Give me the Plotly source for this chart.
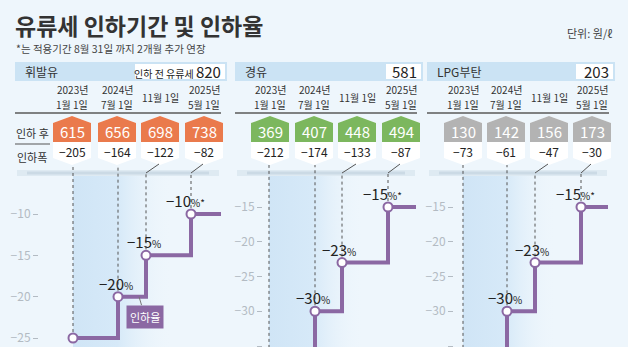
import plotly.graph_objects as go

W, H = 628, 347
FONT = "Noto Sans CJK KR"

# ---------------- data ----------------
fuels = ["휘발유", "경유", "LPG부탄"]
tax_before = [820, 581, 203]
date_years = ["2023년", "2024년", "", "2025년"]
date_days = ["1월 1일", "7월 1일", "11월 1일", "5월 1일"]
extended = ["", "", "", "*"]

gasoline_after = [615, 656, 698, 738]
diesel_after = [369, 407, 448, 494]
lpg_after = [130, 142, 156, 173]

gasoline_cut = [-205, -164, -122, -82]
diesel_cut = [-212, -174, -133, -87]
lpg_cut = [-73, -61, -47, -30]

gasoline_rate = [-25, -20, -15, -10]
diesel_rate = [-37, -30, -23, -15]
lpg_rate = [-37, -30, -23, -15]

after_vals = [gasoline_after, diesel_after, lpg_after]
cut_vals = [gasoline_cut, diesel_cut, lpg_cut]
rate_vals = [gasoline_rate, diesel_rate, lpg_rate]

# ---------------- layout / style ----------------
BG = "#eef6fc"
BAND = "#cbe3f4"
PURPLE = "#8b68a3"
HEX_COLORS = ["#ea7a4c", "#7cb75e", "#b3b3b3"]
TICK_COLOR = "#b3bbc3"

# pixel geometry of each panel
panels = [
    dict(band=(15, 227), box_x0=135, hex_x=[72, 117, 160, 204], step_x=[73, 118, 146, 191],
         end_x=221, axis_x=38, ticks=[-10, -15, -20, -25], ref=((-10, 214), (-25, 338)),
         shade=(73, 172), label_x=23, lbl_shift=[0, -2, -2, -6]),
    dict(band=(235, 423), box_x0=386, hex_x=[270, 314, 357, 401], step_x=[269, 315, 342, 388],
         end_x=416, axis_x=262, ticks=[-15, -20, -25, -30, -35], ref=((-15, 207), (-35, 346)),
         shade=(269, 364), label_x=243, lbl_shift=[0, -2, -3, -6]),
    dict(band=(427, 615), box_x0=576, hex_x=[463, 506, 549, 592], step_x=[463, 507, 535, 581],
         end_x=608, axis_x=453, ticks=[-15, -20, -25, -30, -35], ref=((-15, 207), (-35, 346)),
         shade=(463, 557), label_x=435, lbl_shift=[0, -2, -3, -6]),
]

CHART_TOP, CHART_BOT = 165, 347   # pixel rows covered by the step charts
CONNECT_Y = 173                    # where angled leader lines meet the dotted lines


def val_at(py, p):
    (v1, p1), (v2, p2) = p["ref"]
    k = (p2 - p1) / (v1 - v2)
    return v1 - (py - p1) / k


fig = go.Figure()
shapes = []
annotations = []


def text(x, y, s, size, color="#333333", xanchor="center", **kw):
    annotations.append(dict(xref="x", yref="y", x=x, y=y, xanchor=xanchor, yanchor="middle",
                            text=s, showarrow=False,
                            font=dict(family=FONT, size=size, color=color), **kw))


# title block
text(13, 25, "<b>유류세 인하기간 및 인하율</b>", 23, xanchor="left")
text(14, 48, "*는 적용기간 8월 31일 까지 2개월 추가 연장", 10.5, "#444444", xanchor="left")
text(614, 33, "단위: 원/ℓ", 11, "#444444", xanchor="right")

# row labels (first panel only)
text(32, 133, "인하 후", 11)
text(32, 157, "인하폭", 11)
shapes.append(dict(type="line", xref="x", yref="y", x0=15, x1=50, y0=144, y1=144,
                   line=dict(color="#555555", width=1)))

for i, p in enumerate(panels):
    b0, b1 = p["band"]
    # header band with fuel name and pre-cut tax
    shapes.append(dict(type="rect", xref="x", yref="y", x0=b0, x1=b1, y0=62, y1=81,
                       fillcolor=BAND, line=dict(width=0), layer="below"))
    shapes.append(dict(type="rect", xref="x", yref="y", x0=p["box_x0"], x1=b1 - 2, y0=64, y1=79,
                       fillcolor="white", line=dict(width=0), layer="below"))
    text(p["label_x"], 71.5, fuels[i], 12, xanchor="left")
    if i == 0:
        box_txt = f"<span style='font-size:10px'>인하 전 유류세 </span>{tax_before[i]}"
    else:
        box_txt = f"{tax_before[i]}"
    text(b1 - 4, 71.5, box_txt, 15, "#222222", xanchor="right")
    # separator below the dates
    shapes.append(dict(type="line", xref="x", yref="y", x0=b0, x1=b1 - 6, y0=113, y1=113,
                       line=dict(color="#5a5a5a", width=1.5)))
    # soft shadow under the table
    shapes.append(dict(type="rect", xref="x", yref="y", x0=b0 + 2, x1=b1 - 8, y0=170, y1=176,
                       fillcolor="rgba(170,192,210,0.22)", line=dict(width=0), layer="below"))
    shapes.append(dict(type="rect", xref="x", yref="y", x0=b0 + 12, x1=b1 - 18, y0=171.5, y1=174.5,
                       fillcolor="rgba(160,182,200,0.30)", line=dict(width=0), layer="below"))

    # gradient shading for the reduction period
    s0, s1 = p["shade"]
    fig.add_trace(go.Scatter(
        x=[s0, s1, s1, s0, s0], y=[176, 176, CHART_BOT, CHART_BOT, 176],
        xaxis="x", yaxis="y", mode="lines", line=dict(width=0), fill="toself",
        fillgradient=dict(type="horizontal", start=s0, stop=s1,
                          colorscale=[[0, "#d0e5f6"], [0.45, "#d6e9f8"], [1, "rgba(238,246,252,0)"]]),
        hoverinfo="skip", showlegend=False))

    for j in range(4):
        cx = p["hex_x"][j]
        hw = 19
        # hexagon: white base and coloured cap
        shapes.append(dict(type="path", xref="x", yref="y",
                           path=f"M{cx},116 L{cx+hw},123 L{cx+hw},158 L{cx},165 L{cx-hw},158 L{cx-hw},123 Z",
                           fillcolor="white", line=dict(width=0), layer="below"))
        shapes.append(dict(type="path", xref="x", yref="y",
                           path=f"M{cx},116 L{cx+hw},123 L{cx+hw},142 L{cx-hw},142 L{cx-hw},123 Z",
                           fillcolor=HEX_COLORS[i], line=dict(width=0), layer="below"))
        # date, one or two lines
        if date_years[j]:
            text(cx, 89.5, date_years[j], 10)
            text(cx, 104, date_days[j], 10)
        else:
            text(cx, 97, date_days[j], 10)
        text(cx, 131, f"{after_vals[i][j]}", 15, "white")
        text(cx, 151, f"−{abs(cut_vals[i][j])}", 12, "#222222")
        # angled leader from hexagon to the shifted date position
        sx = p["step_x"][j]
        if j >= 2:
            shapes.append(dict(type="line", xref="x", yref="y", x0=cx - 1, y0=164, x1=sx, y1=CONNECT_Y,
                               line=dict(color="#555555", width=1)))

# step charts, one y axis per panel
for i, p in enumerate(panels):
    ax = f"y{i + 2}"
    rates = rate_vals[i]
    top = val_at(CHART_TOP, p)
    for j, sx in enumerate(p["step_x"]):
        y_top = top if j < 2 else val_at(CONNECT_Y, p)
        fig.add_trace(go.Scatter(x=[sx, sx], y=[rates[j], y_top], xaxis="x", yaxis=ax,
                                 mode="lines", line=dict(color="#555555", width=1, dash="dot"),
                                 hoverinfo="skip", showlegend=False))
    fig.add_trace(go.Scatter(x=p["step_x"] + [p["end_x"]], y=rates + [rates[-1]],
                             xaxis="x", yaxis=ax, mode="lines", line_shape="hv",
                             line=dict(color=PURPLE, width=4), hoverinfo="skip", showlegend=False))
    fig.add_trace(go.Scatter(x=p["step_x"], y=rates, xaxis="x", yaxis=ax, mode="markers",
                             marker=dict(size=9, color="white", line=dict(color=PURPLE, width=2)),
                             hoverinfo="skip", showlegend=False))
    for j in range(1, 4):
        annotations.append(dict(
            xref="x", yref=ax, x=p["step_x"][j], y=rates[j], xanchor="center", yanchor="bottom",
            yshift=1, xshift=p["lbl_shift"][j],
            text=f"−{abs(rates[j])}<span style='font-size:10px'>%{extended[j]}</span>",
            showarrow=False, font=dict(family=FONT, size=15, color="#222222")))

# "인하율" callout in the first panel
annotations.append(dict(xref="x", yref="y2", x=139, y=gasoline_rate[1], ax=6, ay=20,
                        axref="pixel", ayref="pixel", text="인하율", showarrow=True,
                        arrowhead=0, arrowwidth=1, arrowcolor="#777777", standoff=0,
                        bgcolor=PURPLE, borderpad=3,
                        font=dict(family=FONT, size=11, color="white")))

layout_axes = dict(
    xaxis=dict(domain=[0, 1], range=[0, W], visible=False, fixedrange=True),
    yaxis=dict(domain=[0, 1], range=[H, 0], visible=False, fixedrange=True),
)
dom = [1 - CHART_BOT / H, 1 - CHART_TOP / H]
for i, p in enumerate(panels):
    layout_axes[f"yaxis{i + 2}"] = dict(
        domain=dom, range=[val_at(CHART_BOT, p), val_at(CHART_TOP, p)],
        anchor="free", position=p["axis_x"] / W, side="left",
        showgrid=False, zeroline=False, showline=False,
        ticks="outside", ticklen=5, tickwidth=1, tickcolor=TICK_COLOR,
        tickvals=p["ticks"], ticktext=[f"−{abs(t)}" for t in p["ticks"]],
        tickfont=dict(family=FONT, size=12, color=TICK_COLOR), fixedrange=True)

fig.update_layout(
    width=W, height=H, margin=dict(l=0, r=0, t=0, b=0),
    paper_bgcolor=BG, plot_bgcolor="rgba(0,0,0,0)",
    shapes=shapes, annotations=annotations, showlegend=False,
    **layout_axes)

fig.write_html("out.html", config=dict(displayModeBar=False))
